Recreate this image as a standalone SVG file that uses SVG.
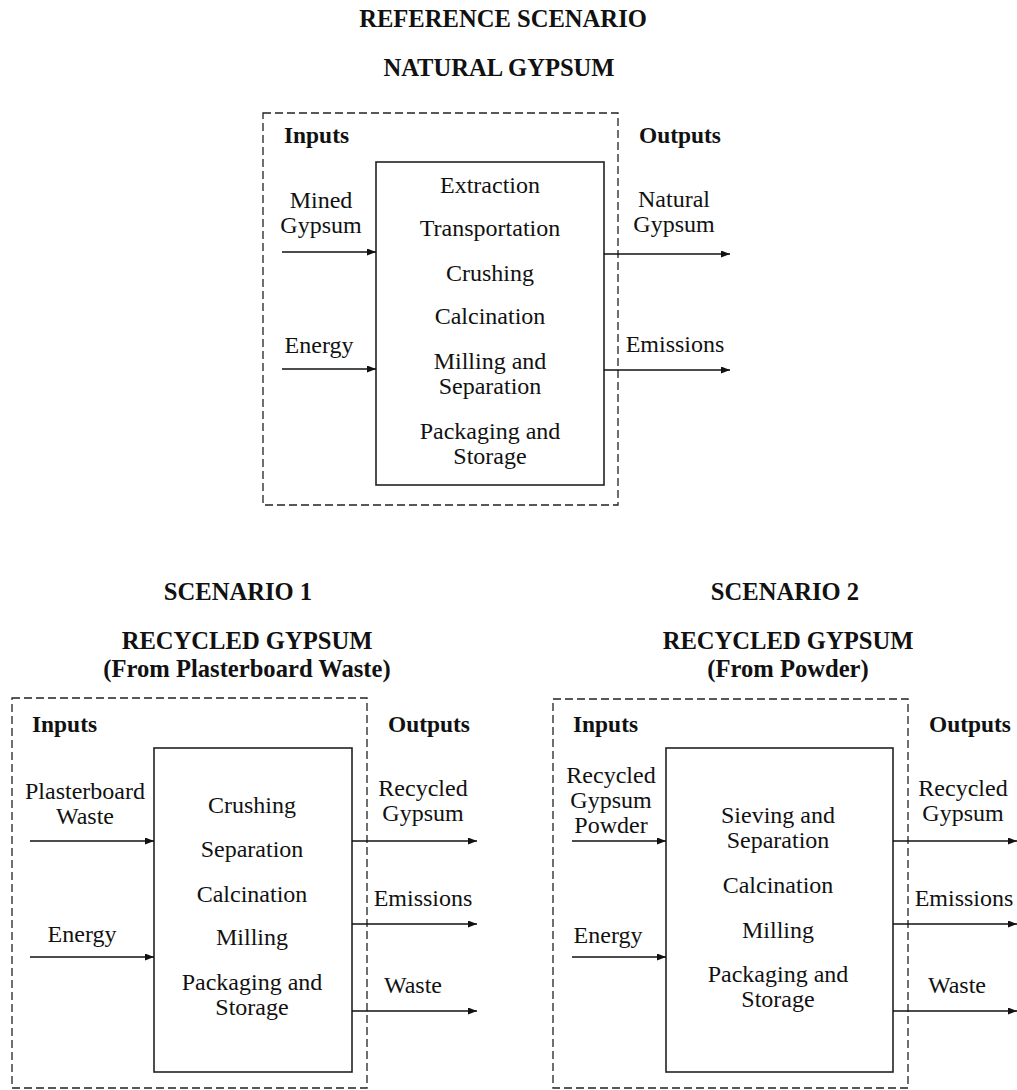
<svg xmlns="http://www.w3.org/2000/svg" width="1017" height="1090" viewBox="0 0 1017 1090">
<defs>
<marker id="arr" markerUnits="userSpaceOnUse" markerWidth="10" markerHeight="8" refX="9" refY="3.5" orient="auto">
<path d="M0,0 L9,3.5 L0,7 z" fill="#111"/>
</marker>
<style>
text{font-family:"Liberation Serif","Times New Roman",serif;fill:#111;text-anchor:middle}
.t{font-weight:bold;font-size:24.6px}
.h{font-weight:bold;font-size:23.4px;text-anchor:start}
.r{font-size:24px}
.frame{fill:none;stroke:#222;stroke-width:1.3;stroke-dasharray:8 4}
.box{fill:#fff;stroke:#222;stroke-width:1.6}
.c{stroke:#111;stroke-width:1.4;fill:none;marker-end:url(#arr)}
</style>
</defs>
<rect width="1017" height="1090" fill="#fff"/>

<!-- Reference scenario -->
<g id="title-ref">
<text class="t" x="503" y="27">REFERENCE SCENARIO</text>
<text class="t" x="499" y="76">NATURAL GYPSUM</text>
</g>
<g id="frame-ref">
<rect class="frame" x="263" y="113" width="355" height="392"/>
<text class="h" x="284" y="143">Inputs</text>
<text class="h" x="639" y="143">Outputs</text>
</g>
<g id="process-ref">
<rect class="box" x="376" y="162" width="228" height="323"/>
<text class="r" x="490" y="193">Extraction</text>
<text class="r" x="490" y="236">Transportation</text>
<text class="r" x="490" y="281">Crushing</text>
<text class="r" x="490" y="324">Calcination</text>
<text class="r" x="490" y="369">Milling and</text>
<text class="r" x="490" y="394">Separation</text>
<text class="r" x="490" y="439">Packaging and</text>
<text class="r" x="490" y="464">Storage</text>
</g>
<g id="in-ref-mined"><text class="r" x="321" y="208">Mined</text><text class="r" x="321" y="233">Gypsum</text></g>
<g id="in-ref-energy"><text class="r" x="319" y="353">Energy</text></g>
<g id="out-ref-natural"><text class="r" x="674" y="207">Natural</text><text class="r" x="674" y="232">Gypsum</text></g>
<g id="out-ref-emissions"><text class="r" x="675" y="352">Emissions</text></g>

<!-- Scenario 1 -->
<g id="title-s1">
<text class="t" x="238" y="600">SCENARIO 1</text>
<text class="t" x="247" y="649">RECYCLED GYPSUM</text>
<text class="t" x="247" y="677">(From Plasterboard Waste)</text>
</g>
<g id="frame-s1">
<rect class="frame" x="12" y="698" width="355" height="390"/>
<text class="h" x="32" y="732">Inputs</text>
<text class="h" x="388" y="732">Outputs</text>
</g>
<g id="process-s1">
<rect class="box" x="154" y="748" width="198" height="324"/>
<text class="r" x="252" y="813">Crushing</text>
<text class="r" x="252" y="857">Separation</text>
<text class="r" x="252" y="902">Calcination</text>
<text class="r" x="252" y="945">Milling</text>
<text class="r" x="252" y="990">Packaging and</text>
<text class="r" x="252" y="1015">Storage</text>
</g>
<g id="in-s1-waste"><text class="r" x="85" y="799">Plasterboard</text><text class="r" x="85" y="824">Waste</text></g>
<g id="in-s1-energy"><text class="r" x="82" y="942">Energy</text></g>
<g id="out-s1-recycled"><text class="r" x="423" y="796">Recycled</text><text class="r" x="423" y="821">Gypsum</text></g>
<g id="out-s1-emissions"><text class="r" x="423" y="906">Emissions</text></g>
<g id="out-s1-waste"><text class="r" x="413" y="993">Waste</text></g>

<!-- Scenario 2 -->
<g id="title-s2">
<text class="t" x="785" y="600">SCENARIO 2</text>
<text class="t" x="788" y="649">RECYCLED GYPSUM</text>
<text class="t" x="788" y="677">(From Powder)</text>
</g>
<g id="frame-s2">
<rect class="frame" x="553" y="699" width="355" height="389"/>
<text class="h" x="573" y="732">Inputs</text>
<text class="h" x="929" y="732">Outputs</text>
</g>
<g id="process-s2">
<rect class="box" x="666" y="748" width="227" height="324"/>
<text class="r" x="778" y="823">Sieving and</text>
<text class="r" x="778" y="848">Separation</text>
<text class="r" x="778" y="893">Calcination</text>
<text class="r" x="778" y="938">Milling</text>
<text class="r" x="778" y="982">Packaging and</text>
<text class="r" x="778" y="1007">Storage</text>
</g>
<g id="in-s2-powder"><text class="r" x="611" y="783">Recycled</text><text class="r" x="611" y="808">Gypsum</text><text class="r" x="611" y="833">Powder</text></g>
<g id="in-s2-energy"><text class="r" x="608" y="943">Energy</text></g>
<g id="out-s2-recycled"><text class="r" x="963" y="796">Recycled</text><text class="r" x="963" y="821">Gypsum</text></g>
<g id="out-s2-emissions"><text class="r" x="964" y="906">Emissions</text></g>
<g id="out-s2-waste"><text class="r" x="957" y="993">Waste</text></g>

<g id="connectors">
<line class="c" x1="282" y1="252" x2="376" y2="252"/>
<line class="c" x1="282" y1="369" x2="376" y2="369"/>
<line class="c" x1="604" y1="254" x2="730" y2="254"/>
<line class="c" x1="604" y1="370" x2="730" y2="370"/>

<line class="c" x1="30" y1="841" x2="154" y2="841"/>
<line class="c" x1="30" y1="957" x2="154" y2="957"/>
<line class="c" x1="352" y1="841" x2="477" y2="841"/>
<line class="c" x1="352" y1="924" x2="477" y2="924"/>
<line class="c" x1="352" y1="1011" x2="477" y2="1011"/>

<line class="c" x1="572" y1="841" x2="666" y2="841"/>
<line class="c" x1="572" y1="957" x2="666" y2="957"/>
<line class="c" x1="893" y1="841" x2="1017" y2="841"/>
<line class="c" x1="893" y1="924" x2="1017" y2="924"/>
<line class="c" x1="893" y1="1011" x2="1017" y2="1011"/>
</g>
</svg>
